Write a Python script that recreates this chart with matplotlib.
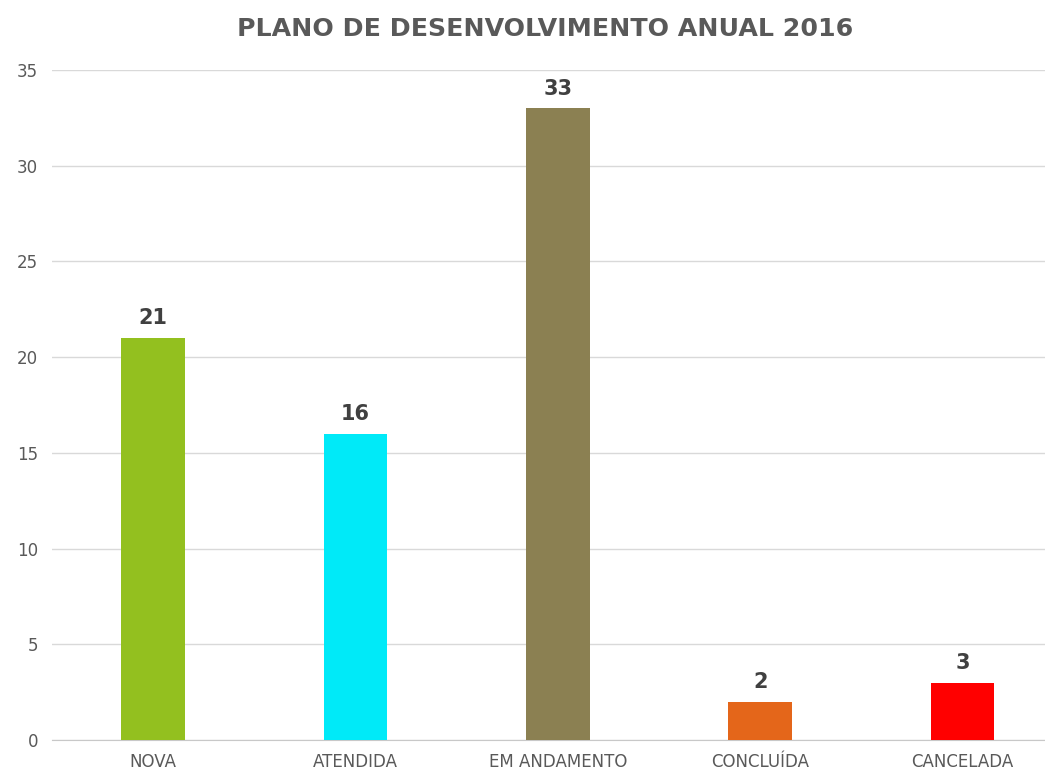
import matplotlib.pyplot as plt

plt.rcParams['font.family'] = ['DejaVu Sans']

categorias = ["NOVA", "ATENDIDA", "EM ANDAMENTO", "CONCLUÍDA", "CANCELADA"]
valores = [21, 16, 33, 2, 3]
cores = ["#93C01F", "#00EAF8", "#8B8052", "#E4661A", "#FF0000"]
yticks = [0, 5, 10, 15, 20, 25, 30, 35]

fig = plt.figure(figsize=(10.45, 7.74), dpi=100)
ax = fig.add_axes([0.0498, 0.0439, 0.968, 0.8657])

x = range(len(categorias))
bars = ax.bar(x, valores, width=0.315, color=cores, zorder=3)
for i, v in zip(x, valores):
    ax.annotate(str(v), (i, v), xytext=(0, 7), textcoords='offset points',
                ha='center', va='bottom', fontsize=15, fontweight='bold', color='#404040')

ax.set_xlim(-0.5, 4.5)
ax.set_ylim(0, 35)
ax.set_yticks(yticks)
ax.set_xticks(list(x))
ax.set_xticklabels(categorias)
ax.tick_params(axis='both', length=0, labelsize=12, colors='#595959')
ax.tick_params(axis='x', pad=9)
ax.tick_params(axis='y', pad=10)
ax.grid(axis='y', color='#D9D9D9', linewidth=1, zorder=0)
for s in ['top', 'right', 'left']:
    ax.spines[s].set_visible(False)
ax.spines['bottom'].set_color('#C8C8C8')

fig.text(0.522, 0.963, "PLANO DE DESENVOLVIMENTO ANUAL 2016", ha='center', va='center',
         fontsize=18.2, fontweight='bold', color='#595959')

fig.savefig('out.png', dpi=100)
